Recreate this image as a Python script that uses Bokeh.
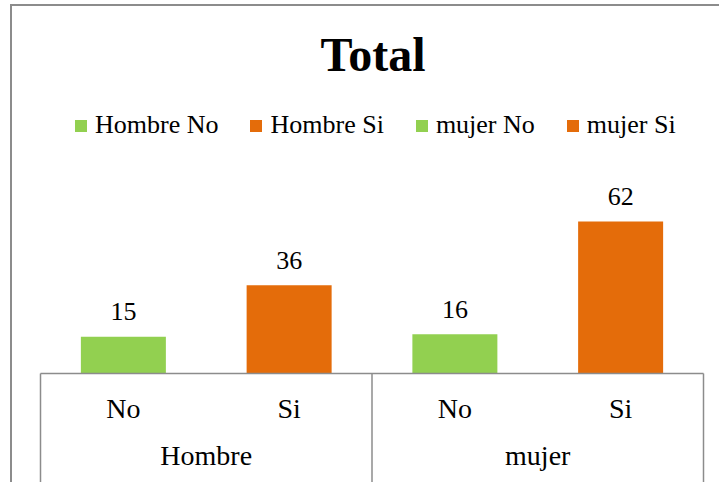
from bokeh.plotting import figure
from bokeh.models import (FactorRange, Range1d, Legend, LegendItem, Label,
                          ColumnDataSource, CategoricalAxis)
from bokeh.embed import file_html
from bokeh.resources import INLINE
from bokeh.core.properties import value

# ---- data ----
title_text = "Total"
groups = ["Hombre", "mujer"]
answers = ["No", "Si"]
counts = [15, 36, 16, 62]
series_names = ["Hombre No", "Hombre Si", "mujer No", "mujer Si"]
colors = ["#92D050", "#E46C0A", "#92D050", "#E46C0A"]

factors = [(g, a) for g in groups for a in answers]

# ---- layout constants (pixels) ----
W, H = 709, 478
FRAME_LEFT = 10
N = len(factors)
PX_PER_FACTOR = 663 / N
PAD_PX = (W - FRAME_LEFT - 663) / 2
PX_PER_UNIT = 2.45
BASE_FROM_BOTTOM = 111
FONT = "Liberation Serif"
GRAY = "#8c8c8c"

x_range = FactorRange(*factors, factor_padding=0, group_padding=0,
                      subgroup_padding=0,
                      range_padding=(2 * PAD_PX / PX_PER_FACTOR) / N)
y_start = -BASE_FROM_BOTTOM / PX_PER_UNIT
y_end = (H - BASE_FROM_BOTTOM) / PX_PER_UNIT
y_range = Range1d(y_start, y_end)

p = figure(x_range=x_range, y_range=y_range, width=W, height=H,
           output_backend="svg", toolbar_location=None,
           x_axis_location=None, y_axis_location=None,
           min_border_left=FRAME_LEFT, min_border_right=0,
           min_border_top=0, min_border_bottom=0)
p.outline_line_color = None
p.xgrid.visible = False
p.ygrid.visible = False
p.background_fill_color = "white"
p.border_fill_color = "white"
p.styles = {"border-left": "2px solid " + GRAY, "border-top": "2px solid " + GRAY,
            "margin-left": "10px", "margin-top": "4px"}

src = ColumnDataSource(dict(x=factors, top=counts, color=colors,
                            name=series_names,
                            txt=[str(c) for c in counts]))

bars = p.vbar(x="x", top="top", width=85 / PX_PER_FACTOR, fill_color="color",
              line_color=None, source=src)

p.text(x="x", y="top", text="txt", source=src, text_align="center",
       text_baseline="alphabetic", y_offset=-25,
       text_font=value(FONT), text_font_size="26px", text_color="black")

# group separators and axis line
n_sub = len(answers)
bounds = [i * n_sub for i in range(len(groups) + 1)]
p.segment(x0=bounds, x1=bounds, y0=[0] * len(bounds), y1=[y_start] * len(bounds),
          line_color=GRAY, line_width=1.5)
p.segment(x0=[bounds[0]], x1=[bounds[-1]], y0=[0], y1=[0],
          line_color=GRAY, line_width=1.5)

ax = CategoricalAxis(fixed_location=0)
ax.axis_line_color = None
ax.major_tick_line_color = None
ax.minor_tick_line_color = None
ax.separator_line_color = None
ax.major_label_text_font = FONT
ax.major_label_text_font_size = "28px"
ax.major_label_text_color = "black"
ax.major_label_standoff = 13
ax.group_text_font = FONT
ax.group_text_font_size = "28px"
ax.group_text_font_style = "normal"
ax.group_text_color = "black"
p.add_layout(ax, "below")

legend = Legend(items=[LegendItem(label=n, renderers=[bars], index=i)
                       for i, n in enumerate(series_names)],
                orientation="horizontal", location=(51, 344),
                padding=0, margin=0, spacing=30, label_standoff=7,
                glyph_width=15, glyph_height=15,
                label_text_font=FONT, label_text_font_size="26px",
                label_text_color="black",
                border_line_color=None, background_fill_alpha=0)
p.add_layout(legend)

title = Label(x=350.5, y=430,
              x_units="screen", y_units="screen", text=title_text,
              text_align="center", text_baseline="alphabetic",
              text_font=FONT, text_font_style="bold", text_font_size="48px",
              text_color="black")
p.add_layout(title)

open("out.html", "w").write(file_html(p, INLINE))
